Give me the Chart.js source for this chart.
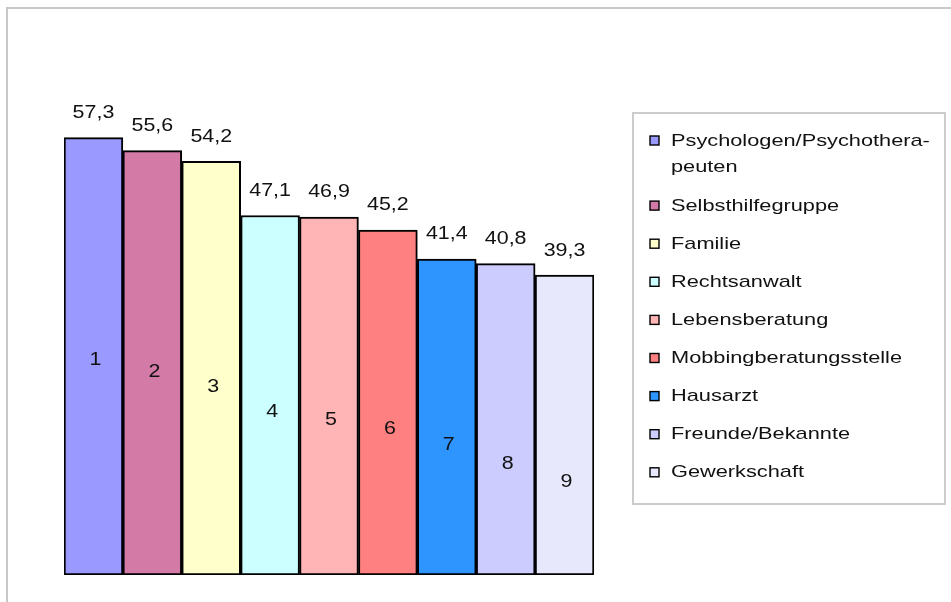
<!DOCTYPE html>
<html>
<head>
<meta charset="utf-8">
<script src="https://cdn.jsdelivr.net/npm/chart.js@4/dist/chart.umd.min.js"></script>
<style>
  html, body { margin: 0; padding: 0; background: #fff; }
  #wrap { position: relative; width: 951px; height: 602px; }
</style>
</head>
<body>
<div id="wrap"><canvas id="c" width="951" height="602"></canvas></div>
<script>
// ---- data ----
const categories = [
  ['Psychologen/Psychothera-', 'peuten'],
  'Selbsthilfegruppe',
  'Familie',
  'Rechtsanwalt',
  'Lebensberatung',
  'Mobbingberatungsstelle',
  'Hausarzt',
  'Freunde/Bekannte',
  'Gewerkschaft'
];
const values = [57.3, 55.6, 54.2, 47.1, 46.9, 45.2, 41.4, 40.8, 39.3];
const rankLabels = ['1', '2', '3', '4', '5', '6', '7', '8', '9'];
// level (in value units) at which each rank label sits inside its bar
const rankLabelLevels = [28.2, 26.6, 24.6, 21.4, 20.3, 19.1, 17.0, 14.6, 12.2];
const barColors = ['#9999FF', '#D47AA6', '#FFFFCC', '#CCFFFF', '#FFB5B5',
                   '#FF8080', '#2E95FF', '#CCCCFF', '#E8E8FC'];

const FONT = '"Liberation Sans", Arial, sans-serif';

function stretchedText(ctx, text, x, y, sx, align) {
  ctx.save();
  ctx.translate(x, y);
  ctx.scale(sx, 1);
  ctx.textAlign = align;
  ctx.fillText(text, 0, 0);
  ctx.restore();
}

const decorPlugin = {
  id: 'decor',
  beforeDraw(chart) {
    const ctx = chart.ctx;
    ctx.save();
    ctx.fillStyle = '#fff';
    ctx.fillRect(0, 0, chart.width, chart.height);
    // outer frame (top + left)
    ctx.strokeStyle = '#c8c8c8';
    ctx.lineWidth = 2;
    ctx.beginPath();
    ctx.moveTo(7, chart.height);
    ctx.lineTo(7, 8);
    ctx.lineTo(chart.width, 8);
    ctx.stroke();
    ctx.restore();
  },
  afterDraw(chart) {
    const ctx = chart.ctx;
    const meta = chart.getDatasetMeta(0);
    const yScale = chart.scales.y;
    const ds = chart.data.datasets[0];
    ctx.save();
    ctx.fillStyle = '#111';
    ctx.textBaseline = 'alphabetic';
    // value labels above bars
    ctx.font = '18px ' + FONT;
    meta.data.forEach((bar, i) => {
      const txt = ds.data[i].toFixed(1).replace('.', ',');
      stretchedText(ctx, txt, bar.x, bar.y - 19.5, 1.19, 'center');
    });
    // rank labels inside bars
    ctx.textBaseline = 'middle';
    meta.data.forEach((bar, i) => {
      const y = yScale.getPixelForValue(rankLabelLevels[i]);
      stretchedText(ctx, rankLabels[i], bar.x + 2, y, 1.19, 'center');
    });

    // legend box
    const lx = 633, ly = 113, lw = 312, lh = 391;
    ctx.strokeStyle = '#cccccc';
    ctx.lineWidth = 2;
    ctx.strokeRect(lx, ly, lw, lh);
    ctx.font = '17px ' + FONT;
    ctx.textBaseline = 'middle';
    let yc = 140;
    chart.data.labels.forEach((lab, i) => {
      const lines = Array.isArray(lab) ? lab : [lab];
      // marker
      ctx.fillStyle = ds.backgroundColor[i];
      ctx.fillRect(650, yc - 4, 9, 9);
      ctx.strokeStyle = '#000';
      ctx.lineWidth = 1.4;
      ctx.strokeRect(650, yc - 4, 9, 9);
      ctx.fillStyle = '#111';
      lines.forEach((ln, k) => {
        stretchedText(ctx, ln, 671, yc + 1 + k * 26.5, 1.28, 'left');
      });
      yc += 38.1 + (lines.length - 1) * 27;
    });
    ctx.restore();
  }
};

new Chart(document.getElementById('c'), {
  type: 'bar',
  data: {
    labels: categories,
    datasets: [{
      data: values,
      backgroundColor: barColors,
      borderColor: '#000',
      borderWidth: 2,
      borderSkipped: false,
      barPercentage: 1,
      categoryPercentage: 1
    }]
  },
  options: {
    responsive: false,
    animation: false,
    devicePixelRatio: 1,
    layout: { padding: { left: 64, right: 357, top: 117, bottom: 27 } },
    plugins: { legend: { display: false }, tooltip: { enabled: false } },
    scales: {
      x: { display: false },
      y: { display: false, min: 0, max: 60 }
    }
  },
  plugins: [decorPlugin]
});
</script>
</body>
</html>
